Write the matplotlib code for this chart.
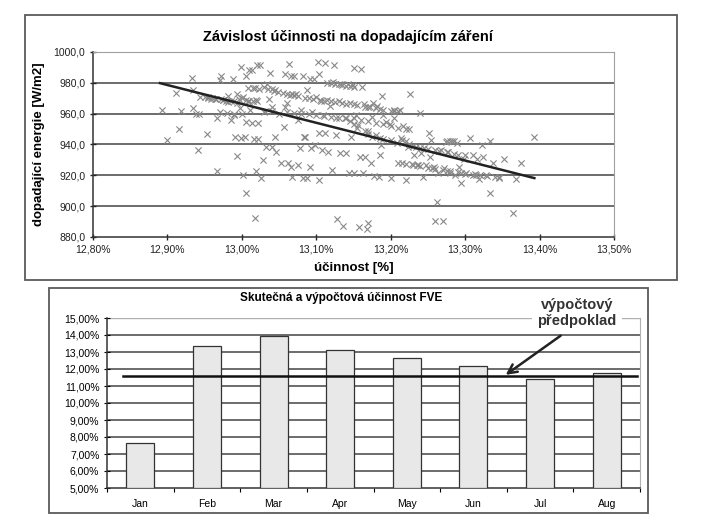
import numpy as np
import matplotlib
matplotlib.use('Agg')
import matplotlib.pyplot as plt
from matplotlib.patches import Rectangle
from matplotlib.ticker import FuncFormatter

plt.rcParams['font.family'] = ['Liberation Sans', 'DejaVu Sans']

# --- top chart: efficiency [%] vs irradiance [W/m2] ---
eff = [12.893, 12.900, 12.911, 12.916, 12.918, 12.933, 12.934, 12.934, 12.938, 12.941,
       12.942, 12.944, 12.951, 12.953, 12.955, 12.958, 12.964, 12.966, 12.967, 12.970,
       12.972, 12.972, 12.975, 12.979, 12.982, 12.982, 12.985, 12.988, 12.990, 12.991,
       12.993, 12.993, 12.994, 12.996, 12.997, 12.999, 12.999, 13.001, 13.002, 13.004,
       13.005, 13.005, 13.005, 13.008, 13.008, 13.010, 13.011, 13.013, 13.014, 13.015,
       13.016, 13.017, 13.017, 13.019, 13.019, 13.020, 13.022, 13.022, 13.023, 13.025,
       13.026, 13.028, 13.031, 13.032, 13.034, 13.037, 13.038, 13.040, 13.041, 13.043,
       13.044, 13.046, 13.049, 13.050, 13.053, 13.055, 13.056, 13.058, 13.058, 13.060,
       13.062, 13.064, 13.066, 13.066, 13.067, 13.068, 13.070, 13.073, 13.075, 13.076,
       13.078, 13.080, 13.082, 13.082, 13.084, 13.085, 13.087, 13.088, 13.091, 13.092,
       13.093, 13.094, 13.097, 13.098, 13.100, 13.102, 13.103, 13.104, 13.104, 13.106,
       13.108, 13.109, 13.112, 13.112, 13.114, 13.116, 13.118, 13.121, 13.122, 13.124,
       13.126, 13.127, 13.128, 13.130, 13.132, 13.133, 13.136, 13.138, 13.140, 13.142,
       13.144, 13.145, 13.147, 13.149, 13.151, 13.151, 13.154, 13.156, 13.157, 13.159,
       13.160, 13.162, 13.163, 13.164, 13.166, 13.168, 13.169, 13.170, 13.172, 13.174,
       13.175, 13.176, 13.178, 13.180, 13.181, 13.184, 13.186, 13.187, 13.188, 13.190,
       13.193, 13.199, 13.200, 13.204, 13.205, 13.208, 13.210, 13.212, 13.214, 13.216,
       13.220, 13.223, 13.226, 13.228, 13.231, 13.234, 13.237, 13.240, 13.241, 13.244,
       13.247, 13.252, 13.253, 13.254, 13.258, 13.259, 13.262, 13.264, 13.268, 13.270,
       13.271, 13.274, 13.277, 13.280, 13.283, 13.286, 13.289, 13.292, 13.295, 13.298,
       13.301, 13.307, 13.310, 13.313, 13.316, 13.319, 13.322, 13.324, 13.328, 13.333,
       13.334, 13.338, 13.346, 13.352, 13.364, 13.368, 13.375, 13.393,
       13.115, 13.120, 13.125, 13.130, 13.135, 13.140, 13.145, 13.150, 13.030, 13.035,
       13.040, 13.045,
       13.060, 13.065, 13.070, 13.075, 13.085, 13.090, 13.095, 13.105, 13.110, 13.120,
       13.125, 13.135, 13.140, 13.150, 13.155, 13.165, 13.170, 13.180, 13.185, 13.190,
       13.200, 13.205, 13.210,
       12.970, 12.980, 12.990, 13.000, 13.030, 13.040, 13.060, 13.070, 13.080, 13.090,
       13.100, 13.110, 13.120, 13.130, 13.140, 13.150, 13.160, 13.170, 13.180, 13.190,
       13.200, 13.210, 13.220, 13.225,
       13.145, 13.150, 13.155, 13.165, 13.170, 13.175, 13.185, 13.190, 13.200, 13.215,
       13.220,
       13.225, 13.230, 13.240, 13.245, 13.250, 13.260, 13.265, 13.275, 13.285, 13.290,
       13.300,
       13.215, 13.220, 13.230, 13.235, 13.240, 13.250, 13.255, 13.260, 13.270, 13.275,
       13.280, 13.290, 13.295, 13.300, 13.310, 13.315, 13.320, 13.330, 13.340, 13.345,
       13.275, 13.280, 13.285,
       12.955, 12.960, 12.965, 12.975, 12.985, 12.990, 13.000, 13.005, 13.010, 13.015,
       13.020]
irr = [962.7, 943.1, 973.5, 949.8, 961.6, 983.4, 963.4, 975.2, 959.7, 936.4,
       959.5, 970.5, 970.5, 946.8, 970.9, 969.6, 969.4, 957.5, 923.1, 982.1,
       984.3, 969.2, 968.7, 968.3, 967.7, 971.4, 956.2, 982.8, 959.1, 944.6,
       932.5, 967.0, 972.6, 969.2, 963.4, 990.3, 944.4, 970.5, 920.3, 944.6,
       908.8, 984.3, 954.7, 968.3, 976.9, 988.6, 962.7, 954.1, 988.6, 976.9,
       943.3, 976.9, 892.0, 968.7, 923.1, 991.4, 943.3, 953.7, 976.3, 991.8,
       918.1, 930.0, 961.8, 938.6, 979.5, 969.2, 986.4, 964.0, 938.6, 974.8,
       945.0, 935.1, 974.1, 959.7, 928.2, 973.5, 951.5, 985.6, 964.0, 967.0,
       927.8, 992.5, 984.3, 925.6, 919.2, 972.6, 984.3, 972.6, 955.8, 926.7,
       937.5, 962.3, 984.3, 918.1, 944.6, 945.0, 975.6, 918.1, 982.8, 925.6,
       937.5, 961.2, 982.8, 939.7, 970.9, 993.5, 947.6, 917.0, 985.6, 968.3,
       936.4, 959.1, 992.9, 947.2, 968.7, 935.3, 964.9, 923.5, 980.6, 991.6,
       946.1, 956.9, 891.8, 968.3, 934.3, 979.5, 887.3, 957.5, 934.7, 979.1,
       921.8, 966.6, 944.6, 978.4, 989.4, 921.3, 959.1, 952.6, 886.4, 932.1,
       989.0, 977.4, 921.3, 966.2, 931.7, 885.1, 948.5, 889.4, 964.4, 927.8,
       958.0, 967.0, 919.6, 946.1, 964.9, 919.2, 933.4, 939.7, 971.4, 959.1,
       954.7, 953.2, 918.1, 956.9, 962.7, 940.7, 928.2, 962.7, 944.0, 952.1,
       917.0, 938.6, 972.6, 927.3, 933.2, 938.6, 926.7, 960.5, 934.7, 919.2,
       926.7, 947.6, 932.1, 942.9, 925.6, 890.7, 902.4, 921.3, 936.4, 890.1,
       924.6, 941.8, 935.3, 921.3, 942.5, 920.3, 940.7, 925.6, 915.3, 930.4,
       921.3, 944.4, 933.2, 920.7, 930.9, 917.5, 939.7, 932.1, 920.3, 908.4,
       942.5, 927.8, 919.2, 930.4, 895.5, 917.5, 928.2, 945.0,
       980.0, 980.0, 979.5, 979.0, 978.5, 978.0, 978.0, 977.5, 977.0, 976.0,
       976.0, 975.5,
       973.0, 972.0, 972.0, 971.5, 970.0, 970.0, 969.5, 969.0, 968.5, 968.0,
       967.5, 967.0, 966.5, 966.0, 965.5, 964.5, 964.0, 963.5, 963.0, 962.5,
       962.0, 961.5, 962.0,
       961.0, 960.5, 960.0, 960.0, 961.0, 961.5, 961.0, 960.5, 960.0, 959.5,
       959.0, 958.5, 958.0, 957.5, 957.0, 957.0, 956.0, 955.5, 954.0, 953.0,
       952.0, 951.0, 950.0, 950.0,
       955.0, 953.0, 951.0, 949.0, 947.0, 945.0, 944.0, 943.5, 943.0, 943.0,
       942.0,
       940.0, 939.0, 938.0, 937.5, 937.0, 936.5, 936.0, 935.0, 934.0, 933.5,
       933.0,
       928.0, 927.5, 927.0, 926.5, 926.0, 925.0, 924.5, 924.0, 923.5, 923.0,
       922.5, 922.0, 921.5, 921.0, 920.5, 920.0, 920.0, 919.5, 919.0, 918.5,
       942.0, 942.0, 942.0,
       970.0, 970.0, 969.5, 969.0, 968.5, 968.5, 970.0, 969.0, 968.0, 968.5,
       968.0]
trend_x = [12.890, 13.393]
trend_y = [979.8, 918.2]

# --- bottom chart: monthly efficiency ---
months = ['Jan', 'Feb', 'Mar', 'Apr', 'May', 'Jun', 'Jul', 'Aug']
actual = [7.67, 13.36, 13.95, 13.12, 12.62, 12.17, 11.40, 11.76]
assumed = 11.56

W, H = 703, 527
fig = plt.figure(figsize=(W / 100, H / 100), dpi=100)

# chart frames
fig.patches.append(Rectangle((25 / W, 1 - 280 / H), 652 / W, 265 / H, transform=fig.transFigure,
                             fill=False, ec='#5a5a5a', lw=1.3))
fig.patches.append(Rectangle((49 / W, 1 - 513 / H), 599 / W, 225 / H, transform=fig.transFigure,
                             fill=False, ec='#5a5a5a', lw=1.3))

# ---- top scatter ----
ax1 = fig.add_axes([93 / W, 1 - 237 / H, 521 / W, 185 / H])
ax1.scatter(eff, irr, marker='x', s=20, c='#888888', linewidths=0.8, zorder=3)
ax1.plot(trend_x, trend_y, color='#222222', lw=1.8, zorder=4)
ax1.set_xlim(12.8, 13.5)
ax1.set_ylim(880, 1000)
yt = np.arange(880, 1001, 20)
ax1.set_yticks(yt)
ax1.set_xticks(np.arange(12.8, 13.51, 0.1))
for v in yt[1:-1]:
    ax1.axhline(v, color='#444444', lw=1.1, zorder=1)
ax1.yaxis.set_major_formatter(FuncFormatter(lambda v, p: f'{v:.1f}'.replace('.', ',')))
ax1.xaxis.set_major_formatter(FuncFormatter(lambda v, p: f'{v:.2f}%'.replace('.', ',')))
ax1.tick_params(labelsize=7.5, colors='#222222', length=4, width=1, direction='inout')
for s in ['left', 'bottom']:
    ax1.spines[s].set_color('#333333')
    ax1.spines[s].set_linewidth(1.1)
for s in ['top', 'right']:
    ax1.spines[s].set_color('#a0a0a0')
ax1.set_ylabel('dopadající energie [W/m2]', fontsize=9.5, fontweight='bold', labelpad=6)
ax1.set_xlabel('účinnost [%]', fontsize=9.5, fontweight='bold', labelpad=5)
fig.text(348 / W, 1 - 37 / H, 'Závislost účinnosti na dopadajícím záření', ha='center', va='center',
         fontsize=10.5, fontweight='bold')

# ---- bottom bars ----
ax2 = fig.add_axes([107 / W, 1 - 488 / H, 533 / W, 170 / H])
x = np.arange(len(months))
ax2.bar(x, [a - 5 for a in actual], bottom=5, width=0.42, color='#e8e8e8', edgecolor='#333333',
        lw=0.9, zorder=3)
ax2.plot([-0.26, 7.45], [assumed, assumed], color='#111111', lw=1.8, zorder=4)
ax2.set_xlim(-0.5, 7.5)
ax2.set_ylim(5, 15)
pt = np.arange(5, 15.01, 1)
ax2.set_yticks(pt)
for v in pt[1:-1]:
    ax2.axhline(v, color='#444444', lw=1.1, zorder=1)
ax2.axhline(15, color='#b0b0b0', lw=1.0, zorder=1)
ax2.yaxis.set_major_formatter(FuncFormatter(lambda v, p: f'{v:.2f}%'.replace('.', ',')))
ax2.set_xticks(np.arange(-0.5, 7.51, 1))
ax2.set_xticklabels([])
ax2.set_xticks(x, minor=True)
ax2.set_xticklabels(months, minor=True)
ax2.tick_params(axis='x', which='minor', length=0, pad=8, labelsize=7.5)
ax2.tick_params(axis='x', which='major', length=3, direction='out')
ax2.tick_params(axis='y', labelsize=7.5, length=4, direction='inout')
for s in ['left', 'bottom']:
    ax2.spines[s].set_color('#333333')
    ax2.spines[s].set_linewidth(1.1)
ax2.spines['top'].set_visible(False)
ax2.spines['right'].set_color('#b0b0b0')
fig.text(341 / W, 1 - 298 / H, 'Skutečná a výpočtová účinnost FVE', ha='center', va='center',
         fontsize=8.5, fontweight='bold')

fig.text(577 / W, 1 - 313 / H, 'výpočtový\npředpoklad', ha='center', va='center', fontsize=10.5,
         fontweight='bold', color='#333333', linespacing=1.1, zorder=5,
         bbox=dict(fc='white', ec='none', pad=4))
ax2.annotate('', xy=(5.45, assumed), xycoords='data', xytext=(563, H - 334),
             textcoords='figure pixels',
             arrowprops=dict(arrowstyle='->', lw=1.8, color='#222222', mutation_scale=16))

fig.savefig('out.png', dpi=100)
